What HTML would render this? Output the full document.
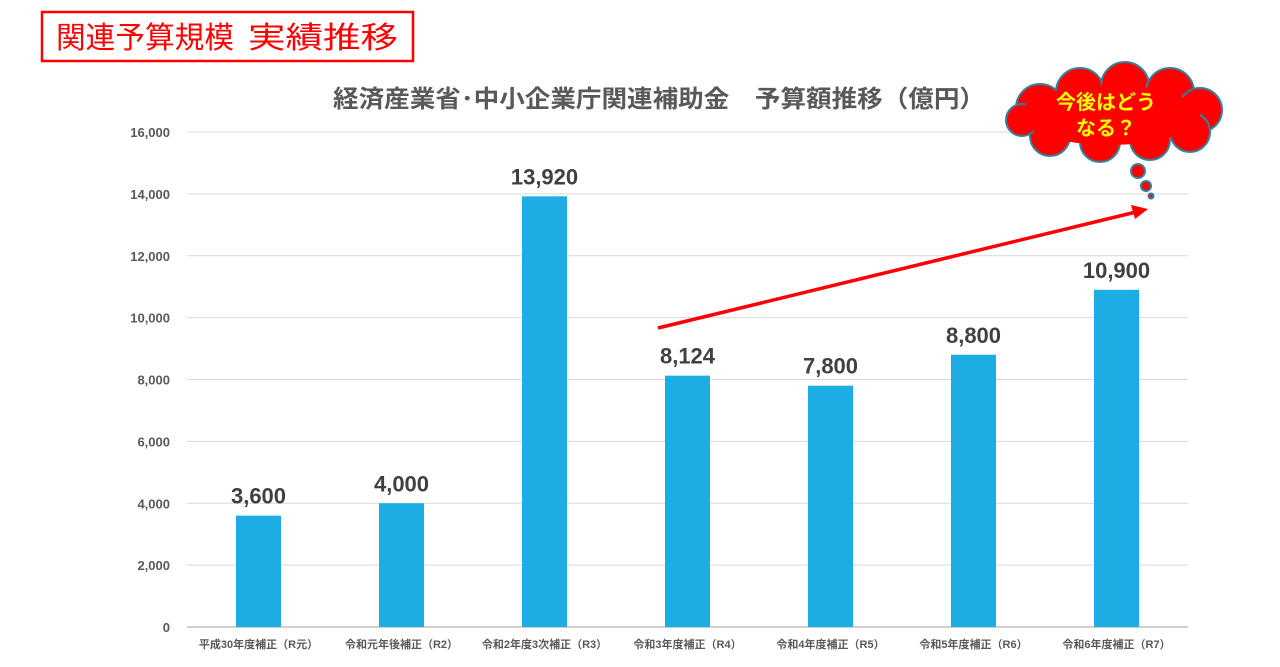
<!DOCTYPE html>
<html><head><meta charset="utf-8"><style>
body{margin:0;background:#fff;width:1280px;height:662px;overflow:hidden;font-family:"Liberation Sans","Noto Sans CJK JP",sans-serif}
</style></head><body>
<svg id="c" width="1280" height="662" xmlns="http://www.w3.org/2000/svg" font-family="Liberation Sans, Noto Sans CJK JP, sans-serif">
<rect x="42" y="12" width="371" height="49" fill="#fff" stroke="#f00" stroke-width="2.5"/>
<text x="56" y="48" font-size="30" fill="#f00" textLength="178" lengthAdjust="spacingAndGlyphs">関連予算規模</text>
<text x="248" y="48" font-size="30" fill="#f00" textLength="150" lengthAdjust="spacingAndGlyphs">実績推移</text>
<text x="333" y="107" font-size="24" font-weight="bold" fill="#595959" textLength="652" lengthAdjust="spacingAndGlyphs">経済産業省･中小企業庁関連補助金　予算額推移（億円）</text>
<g id="grid"></g><g id="bars"></g>
<line x1="658" y1="328" x2="1136" y2="212" stroke="#f00" stroke-width="3.5"/>
<polygon points="1148,209 1131,205 1135,219" fill="#f00"/>
<g fill="#f00" stroke="#31849b" stroke-width="2">
<circle cx="1040" cy="108" r="24"/><circle cx="1080" cy="92" r="24"/><circle cx="1125" cy="86" r="24"/><circle cx="1170" cy="92" r="24"/><circle cx="1200" cy="110" r="22"/><circle cx="1190" cy="132" r="20"/><circle cx="1150" cy="140" r="20"/><circle cx="1100" cy="142" r="20"/><circle cx="1050" cy="136" r="20"/><circle cx="1022" cy="120" r="16"/>
<ellipse cx="1110" cy="115" rx="90" ry="30" stroke="none"/>
<circle cx="1138" cy="171" r="7"/><circle cx="1146" cy="186" r="5"/><circle cx="1151" cy="196" r="2.5"/>
</g>
<text x="1106" y="109" font-size="20" font-weight="bold" fill="#ff0" text-anchor="middle">今後はどう</text>
<text x="1106" y="135" font-size="20" font-weight="bold" fill="#ff0" text-anchor="middle">なる？</text>
</svg>
<script>
const categories=["平成30年度補正（R元）","令和元年後補正（R2）","令和2年度3次補正（R3）","令和3年度補正（R4）","令和4年度補正（R5）","令和5年度補正（R6）","令和6年度補正（R7）"];
const values=[3600,4000,13920,8124,7800,8800,10900];
const labels=["3,600","4,000","13,920","8,124","7,800","8,800","10,900"];
const ticks=[0,2000,4000,6000,8000,10000,12000,14000,16000];
const NS="http://www.w3.org/2000/svg";
const x0=187,x1=1188,y0=627,yTop=132,maxV=16000;
const y=v=>y0-(v/maxV)*(y0-yTop);
const step=(x1-x0)/categories.length;
const xc=i=>x0+step*(i+0.5);
function mk(t,a,p){const e=document.createElementNS(NS,t);for(const k in a)e.setAttribute(k,a[k]);p.appendChild(e);return e;}
const g=document.getElementById('grid'),b=document.getElementById('bars');
ticks.forEach(t=>{
 const l=mk('line',{x1:x0,x2:x1,y1:y(t),y2:y(t),stroke:t===0?'#d0d0d0':'#d9d9d9','stroke-width':t===0?2:1},g);
 
 
 const tx=mk('text',{x:170,y:y(t)+5,'font-size':13,'font-weight':'bold',fill:'#595959','text-anchor':'end'},g);
 tx.textContent=t.toLocaleString('en-US');
 
 
});
values.forEach((v,i)=>{
 const r=mk('rect',{x:xc(i)-22.5,y:y(v),width:45,height:y0-y(v),fill:'#1cade4'},b);
 
 
 const t=mk('text',{x:xc(i),y:y(v)-12,'font-size':22,'font-weight':'bold',fill:'#404040','text-anchor':'middle'},b);
 t.textContent=labels[i];
 
 
 const c=mk('text',{x:xc(i),y:648,'font-size':11,'font-weight':'bold',fill:'#595959','text-anchor':'middle'},b);
 c.textContent=categories[i];
 
 
});
</script>
</body></html>
